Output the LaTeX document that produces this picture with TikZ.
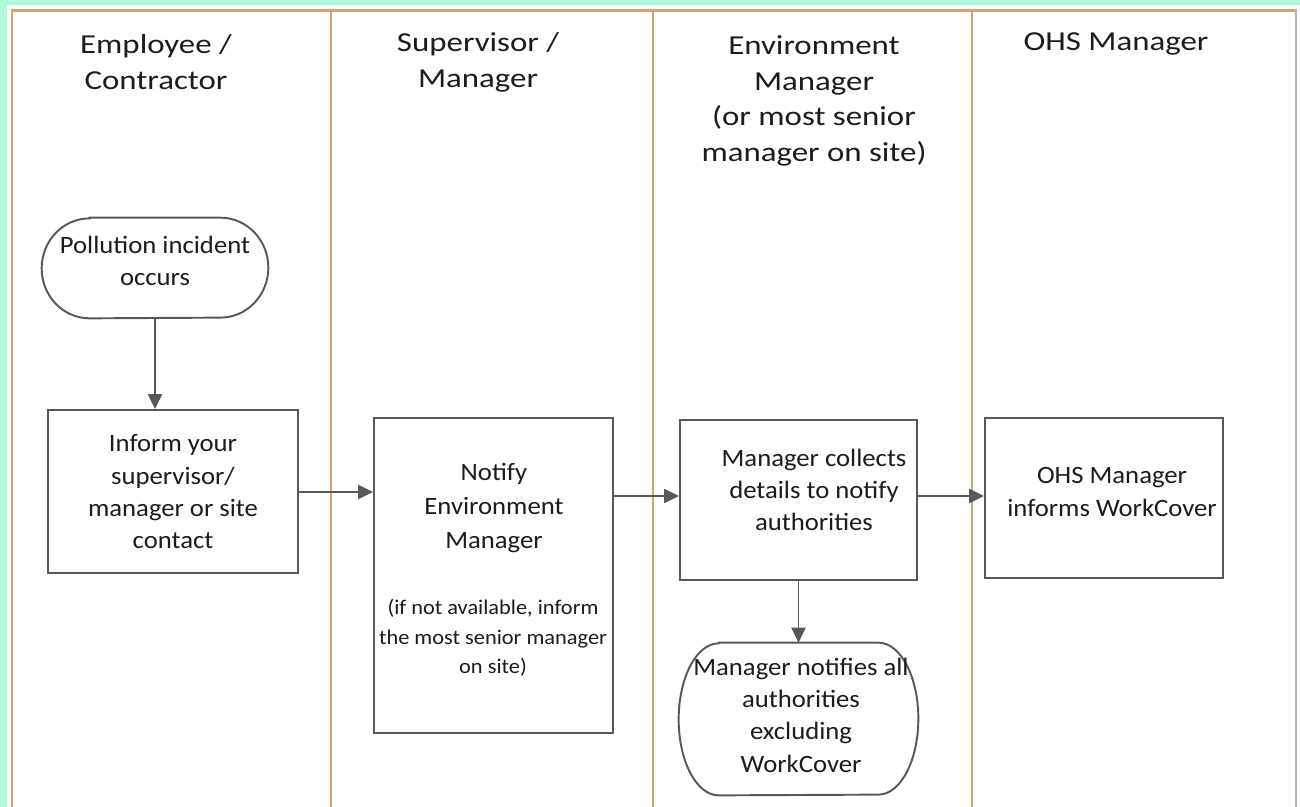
\documentclass[tikz,border=0pt]{standalone}
\usepackage{fontspec}
\setmainfont{Carlito}
\newfontfamily\hdfont[FakeStretch=1.2]{Carlito}
\newfontfamily\bdfont[FakeStretch=1.07]{Carlito}
\usetikzlibrary{arrows.meta,calc,fit}
\definecolor{bgreen}{RGB}{174,250,216}
\definecolor{lanec}{RGB}{212,165,115}
\definecolor{boxc}{RGB}{88,88,88}
\definecolor{txtc}{RGB}{28,28,28}
\begin{document}
\begin{tikzpicture}[x=0.02cm,y=-0.02cm,
  hdr/.style={font=\hdfont\fontsize{15.6pt}{20.4pt}\selectfont, align=center, inner sep=0pt, text=txtc},
  bd/.style={font=\bdfont\fontsize{14.2pt}{18.4pt}\selectfont, align=center, inner sep=0pt, text=txtc},
  sm/.style={font=\bdfont\fontsize{11.9pt}{16.7pt}\selectfont, align=center, inner sep=0pt, text=txtc},
  stepbox/.style={draw=boxc, line width=1.1pt, fill=white, inner sep=0pt},
  shapeonly/.style={inner sep=0pt},
  termline/.style={draw=boxc, line width=1.1pt, fill=white},
  arr/.style={draw=boxc, line width=1.1pt, -{Triangle[length=8.5pt,width=8pt]}},
  lane/.style={draw=lanec, line width=1.2pt}]

\fill[bgreen] (0,0) rectangle (1300,807);
\useasboundingbox (0,0) rectangle (1300,807);
\fill[white] (7,5) rectangle (1300,807);
\draw[lane] (12,807) -- (12,10.5) -- (1297,10.5);
\draw[draw=black!30, line width=1pt] (1296,10.5) -- (1296,807);
\draw[lane] (331,10.5) -- (331,807);
\draw[lane] (653,10.5) -- (653,807);
\draw[lane] (972,10.5) -- (972,807);

% headers
\node[hdr] (h1) at (156,62) {Employee /\\Contractor};
\node[hdr] (h2) at (478,62) {Supervisor /\\Manager};
\node[hdr] (h3) at (814,101) {Environment\\Manager\\(or most senior\\manager on site)};
\node[hdr] (h4) at (1116,44) {OHS Manager};

% shapes
\node[shapeonly, fit={(42,218) (268,318)}] (poll) {};
\draw[termline] ($(poll.north west)+(48,0)$) -- ($(poll.north east)+(-48,0)$)
  arc[start angle=90, end angle=-90, x radius=0.96cm, y radius=1cm]
  -- ($(poll.south west)+(48,0)$)
  arc[start angle=270, end angle=90, x radius=0.96cm, y radius=1cm] -- cycle;
\node[bd] (tpoll) at (155,261) {Pollution incident\\occurs};

\node[stepbox, fit={(48,410) (298,573)}] (inform) {};
\node[bd] (tinform) at (173,492) {Inform your\\supervisor/\\manager or site\\contact};

\node[stepbox, fit={(374,418) (613,733)}] (notify) {};
\node[bd, font=\bdfont\fontsize{14.2pt}{19.6pt}\selectfont] (tnotify) at (494,508) {Notify\\Environment\\Manager};
\node[sm] (tnotifysm) at (493,638) {(if not available, inform\\the most senior manager\\on site)};

\node[stepbox, fit={(680,420) (917,580)}] (collect) {};
\node[bd] (tcollect) at (814,490) {Manager collects\\details to notify\\authorities};

\node[stepbox, fit={(985,418) (1223,578)}] (ohs) {};
\node[bd] (tohs) at (1112,492) {OHS Manager\\informs WorkCover};

\node[shapeonly, fit={(679,643) (918,795)}] (notall) {};
\draw[termline] ($(notall.north west)+(40,0)$) -- ($(notall.north east)+(-40,0)$)
  arc[start angle=90, end angle=-90, x radius=0.8cm, y radius=1.52cm]
  -- ($(notall.south west)+(40,0)$)
  arc[start angle=270, end angle=90, x radius=0.8cm, y radius=1.52cm] -- cycle;
\node[bd] (tnotall) at (801,715) {Manager notifies all\\authorities\\excluding\\WorkCover};

% connectors
\coordinate (ya) at (0,492);
\coordinate (yb) at (0,496);
\draw[arr] (poll.south) -- (poll.south |- inform.north);
\draw[arr] (inform.east |- ya) -- (notify.west |- ya);
\draw[arr] (notify.east |- yb) -- (collect.west |- yb);
\draw[arr] (collect.east |- yb) -- (ohs.west |- yb);
\draw[arr] (collect.south) -- (notall.north);
\end{tikzpicture}
\end{document}
